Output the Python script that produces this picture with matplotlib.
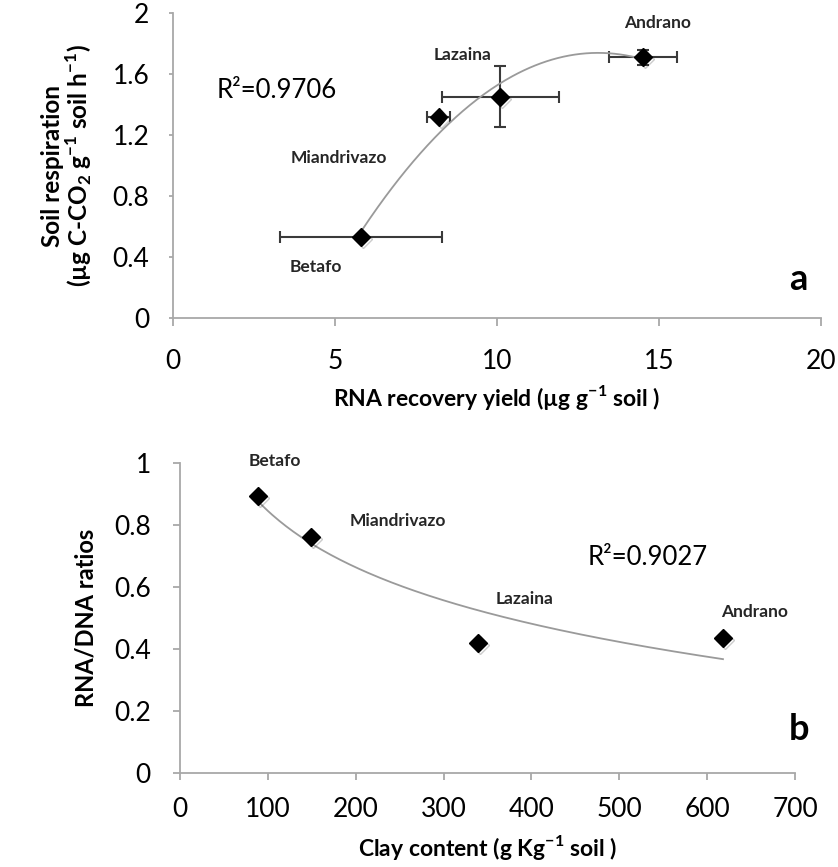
import matplotlib
matplotlib.use("Agg")
import matplotlib.pyplot as plt
import matplotlib.patheffects as pe
import numpy as np

plt.rcParams['font.family'] = ['Lato', 'DejaVu Sans']
plt.rcParams['mathtext.fontset'] = 'custom'
plt.rcParams['mathtext.rm'] = 'Lato'
plt.rcParams['mathtext.bf'] = 'Lato:bold'

# panel a: RNA recovery yield vs soil respiration
sites = ["Betafo", "Miandrivazo", "Lazaina", "Andrano"]
rna_yield = [5.8, 8.2, 10.1, 14.5]
rna_yield_err = [2.5, 0.35, 1.8, 1.05]
respiration = [0.53, 1.32, 1.45, 1.71]
respiration_err = [0.0, 0.0, 0.2, 0.05]

# panel b: clay content vs RNA/DNA ratio
clay = [89, 149, 339, 618]
rna_dna = [0.894, 0.761, 0.419, 0.435]

axis_col = "#a8a8a8"
err_col = "#3a3a3a"
fit_col = "#9a9a9a"
shadow = [pe.SimpleLineShadow(offset=(1.5, -1.5), alpha=0.2), pe.Normal()]


def style_axes(ax):
    for s in ["top", "right"]:
        ax.spines[s].set_visible(False)
    for s in ["left", "bottom"]:
        ax.spines[s].set_color(axis_col)
        ax.spines[s].set_linewidth(1.3)
    ax.tick_params(colors=axis_col, width=1.3, length=5, direction="out")


fig = plt.figure(figsize=(8.38, 8.67), dpi=100)

# ---- panel a
ax1 = fig.add_axes([0.2064, 0.6332, 0.7733, 0.3518])
style_axes(ax1)
ax1.errorbar(rna_yield, respiration, xerr=rna_yield_err, yerr=respiration_err,
             fmt="none", ecolor=err_col, elinewidth=1.5, capsize=4, capthick=1.5, zorder=2)
c2 = np.polyfit(rna_yield, respiration, 2)
xs = np.linspace(min(rna_yield), max(rna_yield), 200)
ax1.plot(xs, np.polyval(c2, xs), color=fit_col, lw=1.3, zorder=3)
ax1.plot(rna_yield, respiration, "D", color="black", ms=9, zorder=4, path_effects=shadow)
ax1.set_xlim(0, 20)
ax1.set_ylim(0, 2)
ax1.set_xticks([0, 5, 10, 15, 20])
ax1.set_yticks([0, 0.4, 0.8, 1.2, 1.6, 2])
ax1.set_yticklabels(["0", "0.4", "0.8", "1.2", "1.6", "2"])
for lab in ax1.get_xticklabels() + ax1.get_yticklabels():
    lab.set_color("black")
    lab.set_fontsize(19)
ax1.tick_params(axis="y", pad=14, length=3)
ax1.tick_params(axis="x", length=6, pad=16)
ax1.set_xlabel(r"RNA recovery yield (µg g$^{\mathbf{-1}}$ soil )", fontsize=16.5,
               fontweight="bold", labelpad=7)
ax1.set_ylabel("Soil respiration\n" + r"(µg C-CO$_{\mathbf{2}}$ g$^{\mathbf{-1}}$ soil h$^{\mathbf{-1}}$)",
               fontsize=17.5, fontweight="bold", labelpad=13, linespacing=1.0)

pos_a = [(4.41, 0.334), (5.12, 1.05), (8.95, 1.725), (14.94, 1.934)]
for name, (tx, ty) in zip(sites, pos_a):
    ax1.text(tx, ty, name, fontsize=12.5, fontweight="bold", color="#262626",
             ha="center", va="center")
ax1.text(1.35, 1.495, "R²=0.9706", fontsize=18.5, ha="left", va="center")
ax1.text(19.3, 0.25, "a", fontsize=26, fontweight="bold", ha="center", va="center")

# ---- panel b
ax2 = fig.add_axes([0.2148, 0.1084, 0.7339, 0.3576])
style_axes(ax2)
cl = np.polyfit(np.log(clay), rna_dna, 1)
xs2 = np.linspace(min(clay), max(clay), 200)
ax2.plot(xs2, np.polyval(cl, np.log(xs2)), color=fit_col, lw=1.3, zorder=3)
ax2.plot(clay, rna_dna, "D", color="black", ms=9, zorder=4, path_effects=shadow)
ax2.set_xlim(0, 700)
ax2.set_ylim(0, 1)
ax2.set_xticks(range(0, 701, 100))
ax2.set_yticks([0, 0.2, 0.4, 0.6, 0.8, 1])
ax2.set_yticklabels(["0", "0.2", "0.4", "0.6", "0.8", "1"])
for lab in ax2.get_xticklabels() + ax2.get_yticklabels():
    lab.set_color("black")
    lab.set_fontsize(19)
ax2.tick_params(axis="y", pad=16, length=5)
ax2.tick_params(axis="x", pad=12)
ax2.set_xlabel(r"Clay content (g Kg$^{\mathbf{-1}}$ soil )", fontsize=16.5,
               fontweight="bold", labelpad=8)
ax2.set_ylabel("RNA/DNA ratios", fontsize=17, fontweight="bold", labelpad=12)

pos_b = [(108, 1.006), (248, 0.813), (392, 0.561), (654, 0.519)]
for name, (tx, ty) in zip(sites, pos_b):
    ax2.text(tx, ty, name, fontsize=12.5, fontweight="bold", color="#262626",
             ha="center", va="center")
ax2.text(532, 0.694, "R²=0.9027", fontsize=18.5, ha="center", va="center")
ax2.text(705, 0.139, "b", fontsize=26, fontweight="bold", ha="center", va="center")

fig.savefig("out.png", dpi=100, facecolor="white")
